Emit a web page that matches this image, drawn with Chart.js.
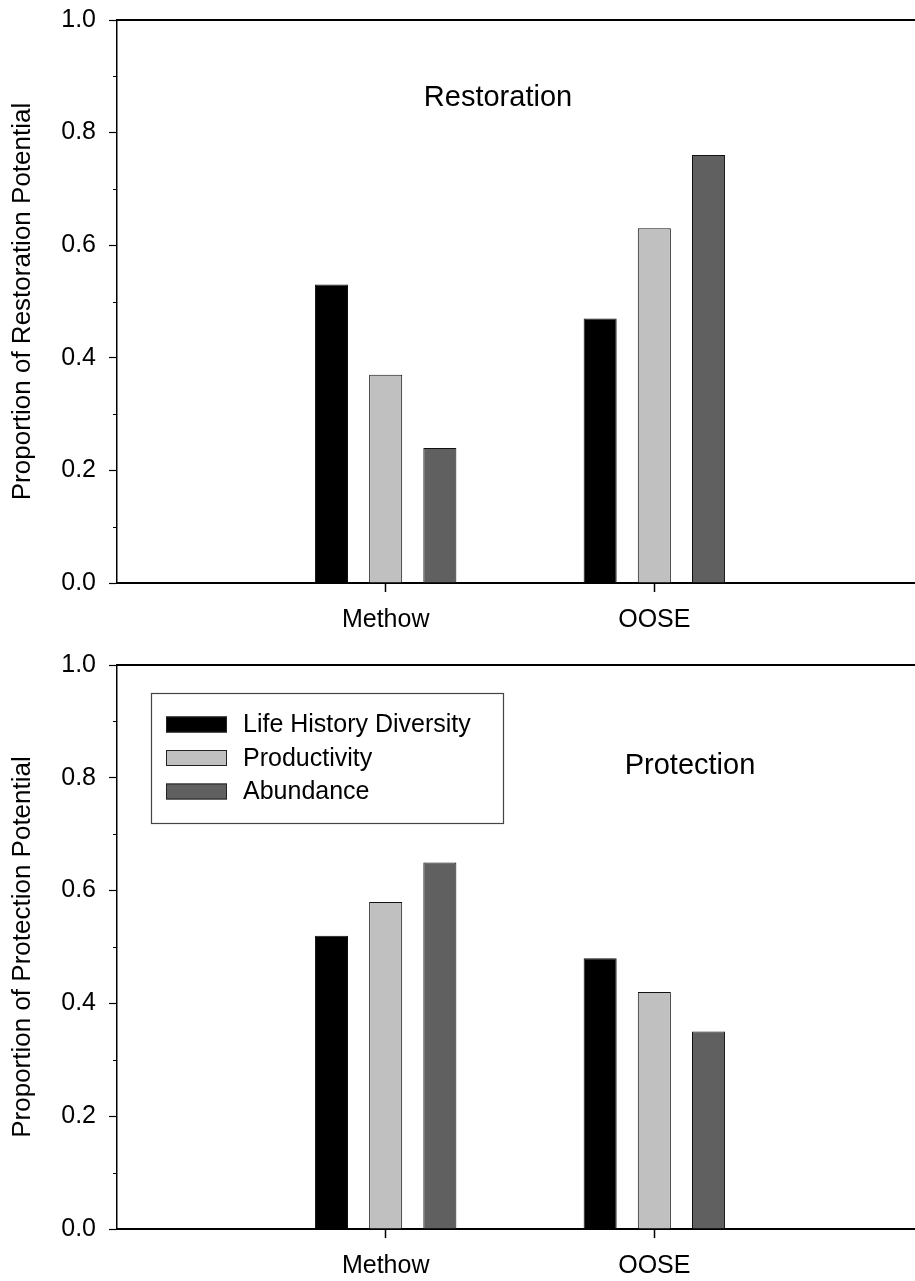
<!DOCTYPE html>
<html><head><meta charset="utf-8">
<script src="https://cdn.jsdelivr.net/npm/chart.js@4.4.1/dist/chart.umd.min.js"></script>
<style>
html,body{margin:0;padding:0;overflow:hidden;background:#fff;width:915px;height:1281px}
.wrap{position:absolute;left:0;width:940px}
#w1{top:0;height:640px}
#w2{top:640px;height:641px}
canvas{display:block}
</style></head><body>
<div class="wrap" id="w1"><canvas id="c1" width="940" height="640"></canvas></div>
<div class="wrap" id="w2"><canvas id="c2" width="940" height="641"></canvas></div>
<script>
// ---- data ----
const categories = ['Methow', 'OOSE'];
const seriesNames = ['Life History Diversity', 'Productivity', 'Abundance'];
const seriesColors = ['#000000', '#c0c0c0', '#606060'];
const restorationLHD = [0.53, 0.47];
const restorationProd = [0.37, 0.63];
const restorationAbund = [0.24, 0.76];
const protectionLHD = [0.52, 0.48];
const protectionProd = [0.58, 0.42];
const protectionAbund = [0.65, 0.35];
const yMajorTicks = [0.0, 0.2, 0.4, 0.6, 0.8, 1.0];
const yMinorTicks = [0.1, 0.3, 0.5, 0.7, 0.9];

const FONT = "'Liberation Sans', Arial, Helvetica, sans-serif";
Chart.defaults.font.family = FONT;
Chart.defaults.color = '#000';

// category labels with empty slots at both ends so the axis spans 0..3
const labels = [''].concat(categories, ['']);
const pad = arr => [null].concat(arr, [null]);

function makeChart(canvasId, seriesArrays, yTitle, note, showLegend, geom) {
  const datasets = seriesArrays.map((arr, i) => ({
    label: seriesNames[i],
    data: pad(arr),
    backgroundColor: seriesColors[i],
    borderColor: '#111',
    borderWidth: 1,
    borderSkipped: 'bottom',
    categoryPercentage: 0.605,
    barPercentage: 0.61
  }));

  const framePlugin = {
    id: 'frame',
    afterDraw(chart) {
      const {ctx, chartArea: a, scales} = chart;
      const y = scales.y;
      ctx.save();
      ctx.strokeStyle = '#000';
      ctx.lineWidth = 2;
      ctx.beginPath();
      ctx.moveTo(a.left, a.top); ctx.lineTo(a.right, a.top);
      ctx.moveTo(a.right, a.top); ctx.lineTo(a.right, a.bottom);
      ctx.stroke();
      // minor ticks
      ctx.lineWidth = 1.2;
      ctx.beginPath();
      yMinorTicks.forEach(v => {
        const py = Math.round(y.getPixelForValue(v)) + 0.5;
        ctx.moveTo(a.left - 4, py); ctx.lineTo(a.left, py);
      });
      ctx.stroke();
      // annotation
      ctx.fillStyle = '#000';
      ctx.font = '29px ' + FONT;
      ctx.textAlign = 'center';
      ctx.textBaseline = 'middle';
      ctx.fillText(note.text, a.left + note.dx, a.top + note.dy);
      // legend
      if (showLegend) {
        const bx = a.left + 34, by = a.top + 28, bw = 352, bh = 130;
        ctx.lineWidth = 1.2;
        ctx.strokeStyle = '#444';
        ctx.strokeRect(bx + 0.5, by + 0.5, bw, bh);
        ctx.font = '25px ' + FONT;
        ctx.textAlign = 'left';
        seriesNames.forEach((name, i) => {
          const cy = by + 31.5 + i * 33.5;
          ctx.fillStyle = seriesColors[i];
          ctx.fillRect(bx + 15, cy - 8, 61, 16);
          ctx.strokeStyle = '#222';
          ctx.lineWidth = 1;
          ctx.strokeRect(bx + 15.5, cy - 7.5, 60, 15);
          ctx.fillStyle = '#000';
          ctx.fillText(name, bx + 92, cy + 1);
        });
      }
      ctx.restore();
    }
  };

  return new Chart(document.getElementById(canvasId), {
    type: 'bar',
    data: { labels: labels, datasets: datasets },
    options: {
      responsive: false,
      animation: false,
      devicePixelRatio: 1,
      layout: { padding: { top: geom.padTop, right: 17, left: 0, bottom: 0 } },
      plugins: { legend: { display: false }, tooltip: { enabled: false } },
      scales: {
        x: {
          type: 'category',
          offset: false,
          grid: {
            offset: false,
            drawOnChartArea: false,
            tickLength: 9,
            tickWidth: 1.5,
            tickColor: c => (c.index === 1 || c.index === 2) ? '#000' : 'rgba(0,0,0,0)'
          },
          border: { display: true, color: '#000', width: 2 },
          ticks: { font: { size: 25 }, color: '#000', padding: 13, maxRotation: 0, autoSkip: false },
          afterFit: s => { s.height = geom.xHeight; s.paddingLeft = 0; s.paddingRight = 0; }
        },
        y: {
          min: 0, max: 1,
          afterBuildTicks: s => { s.ticks = yMajorTicks.map(v => ({ value: v })); },
          ticks: { font: { size: 25 }, color: '#000', padding: 13, callback: v => Number(v).toFixed(1) },
          grid: { drawOnChartArea: false, tickLength: 8, tickWidth: 1.2, tickColor: '#000' },
          border: { display: true, color: '#000', width: 1.5 },
          title: { display: true, text: yTitle, font: { size: 26 }, color: '#000', padding: { top: 7, bottom: 0 } },
          afterFit: s => { s.width = 117; s.paddingTop = 0; s.paddingBottom = 0; }
        }
      }
    },
    plugins: [framePlugin]
  });
}

makeChart('c1', [restorationLHD, restorationProd, restorationAbund],
  'Proportion of Restoration Potential', { text: 'Restoration', dx: 381, dy: 78 }, false,
  { padTop: 20, xHeight: 57 });
makeChart('c2', [protectionLHD, protectionProd, protectionAbund],
  'Proportion of Protection Potential', { text: 'Protection', dx: 573, dy: 101 }, true,
  { padTop: 25, xHeight: 52 });
</script>
</body></html>
